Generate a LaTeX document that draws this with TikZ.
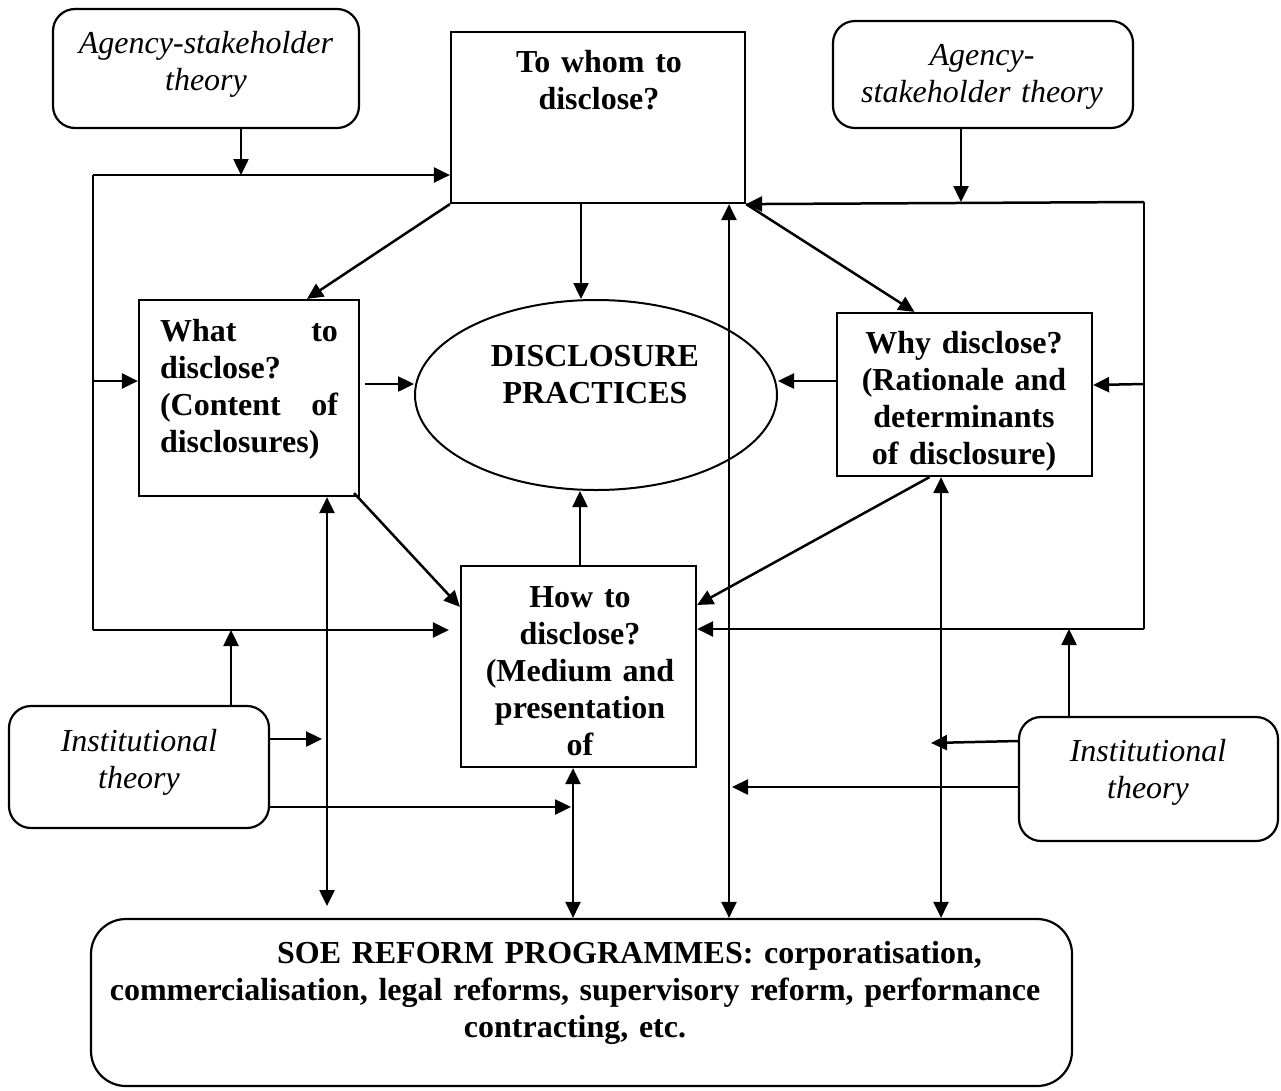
\documentclass[tikz,border=0pt]{standalone}
\usepackage{fontspec}
\setmainfont{Liberation Serif}
\usetikzlibrary{arrows.meta,shapes.geometric}

\tikzset{
  box/.style={draw, line width=2.2pt, inner sep=0pt},
  theory/.style={draw, line width=2.2pt, rounded corners=22pt, inner sep=0pt},
  lbl/.style={anchor=base, align=center, inner sep=0pt,
              font=\fontsize{32}{37}\selectfont\bfseries},
  itl/.style={anchor=base, align=center, inner sep=0pt,
              font=\fontsize{32}{37}\selectfont\itshape},
  ln/.style={line width=2.5pt},
  arr/.style={line width=2.5pt, -{Triangle[length=16pt,width=15pt]}},
  darr/.style={line width=2.5pt,
               {Triangle[length=16pt,width=15pt]}-{Triangle[length=16pt,width=15pt]}}
}

\begin{document}
\begin{tikzpicture}[x=1pt,y=-1pt]
\path[fill=white,use as bounding box] (0,0) rectangle (1281,1090);

% ---- frames ----
\node[theory, minimum width=306pt, minimum height=119pt] (agTL) at (206,68.5) {};
\node[theory, minimum width=300pt, minimum height=107pt] (agTR) at (983,74.5) {};
\node[box, minimum width=294pt, minimum height=171pt] (towhom) at (598,117.5) {};
\node[box, minimum width=220pt, minimum height=196pt] (what) at (249,398) {};
\node[draw, ellipse, line width=2pt, inner sep=0pt,
      minimum width=362pt, minimum height=190pt] (disc) at (596,395) {};
\node[box, minimum width=255pt, minimum height=163pt] (why) at (964.5,394.5) {};
\node[box, minimum width=235pt, minimum height=201pt] (how) at (578.5,666.5) {};
\node[theory, minimum width=260pt, minimum height=122pt] (instL) at (139,767) {};
\node[theory, minimum width=259pt, minimum height=124pt] (instR) at (1148.5,779) {};
\node[box, rounded corners=35pt, minimum width=981pt, minimum height=167pt] (soe) at (581.5,1002.5) {};

% ---- texts ----
\node[itl, text width=300pt] (agTLt) at (206,53) {Agency-stakeholder\\theory};
\node[itl, text width=290pt] (agTRt) at (982,65) {Agency-\\stakeholder theory};
\node[lbl, text width=280pt] (towhomt) at (599,72) {To whom to\\disclose?};
\node[lbl, text width=178pt, align=left] (whatt) at (249,341)
  {What\hfill to\\disclose?\\(Content\hfill of\\disclosures)};
\node[lbl, text width=300pt] (disct) at (595,366) {DISCLOSURE\\PRACTICES};
\node[lbl, text width=240pt] (whyt) at (964,353)
  {Why disclose?\\(Rationale and\\determinants\\of disclosure)};
\node[lbl, text width=225pt] (howt) at (580,607)
  {How to\\disclose?\\(Medium and\\presentation\\of};
\node[itl, text width=250pt] (instLt) at (139,751) {Institutional\\theory};
\node[itl, text width=250pt] (instRt) at (1148,761) {Institutional\\theory};
\node[lbl, text width=980pt] (soet) at (575,963)
  {\hspace*{109pt}SOE REFORM PROGRAMMES: corporatisation,\\
   commercialisation, legal reforms, supervisory reform, performance\\
   contracting, etc.};

% ---- junction points ----
\coordinate (lTop) at (93,175);
\coordinate (lBot) at (93,630);
\coordinate (rTop) at (1144,202);
\coordinate (rBot) at (1144,629);
\coordinate (jTL) at (241,175);
\coordinate (jTR) at (961,202);
\coordinate (dA) at (327,906);
\coordinate (iL1) at (322,739);
\coordinate (iL2) at (571,807);
\coordinate (iR1) at (931,743);
\coordinate (iR2) at (732,787);

% ---- left frame ----
\draw[arr] (agTL.south -| jTL) -- (jTL);
\draw[arr] (lTop) -- (towhom.west |- lTop);
\draw[ln] (lTop) -- (lBot);
\draw[arr] (lTop |- 0,381) -- (what.west |- 0,381);
\draw[arr, shorten >=11pt] (lBot) -- (how.west |- lBot);

% ---- right frame ----
\draw[arr] (agTR.south -| jTR) -- (jTR);
\draw[arr] (rTop) -- (towhom.south east);
\draw[ln] (rTop) -- (rBot);
\draw[arr] (rTop |- 0,384) -- (why.east |- 0,385);
\draw[arr] (rBot) -- (how.east |- rBot);

% ---- inner connectors ----
\draw[arr] (towhom.south west) -- ([xshift=58pt]what.north);
\draw[arr] (towhom.south -| 581,0) -- (disc.north -| 581,0);
\draw[arr] (towhom.south east) -- ([xshift=-50pt]why.north);
\draw[arr, shorten <=5pt] (what.east |- 0,384) -- (disc.west |- 0,384);
\draw[arr] (why.west |- 0,381) -- (disc.east |- 0,381);
\draw[arr] (how.north -| 580,0) -- (disc.south -| 580,0);
\draw[arr] ([xshift=-6pt,yshift=4pt]what.south east) -- ([yshift=-42pt]how.north west);
\draw[arr] ([xshift=-35pt]why.south) -- (how.east |- 0,605);

% ---- links with the reform programmes ----
\draw[darr] (what.south -| dA) -- (dA);
\draw[darr] (how.south -| 573,0) -- (soe.north -| 573,0);
\draw[darr] (soe.north -| 729,0) -- (towhom.south -| 729,0);
\draw[darr] (why.south -| 941,0) -- (soe.north -| 941,0);

% ---- institutional theory ----
\draw[arr] (instL.north -| 231,0) -- (lBot -| 231,0);
\draw[arr] (instL.east |- iL1) -- (iL1);
\draw[arr] (instL.east |- iL2) -- (iL2);
\draw[arr] (instR.north -| 1069,0) -- (rBot -| 1069,0);
\draw[arr] (instR.west |- 0,741) -- (iR1);
\draw[arr] (instR.west |- iR2) -- (iR2);
\end{tikzpicture}
\end{document}
